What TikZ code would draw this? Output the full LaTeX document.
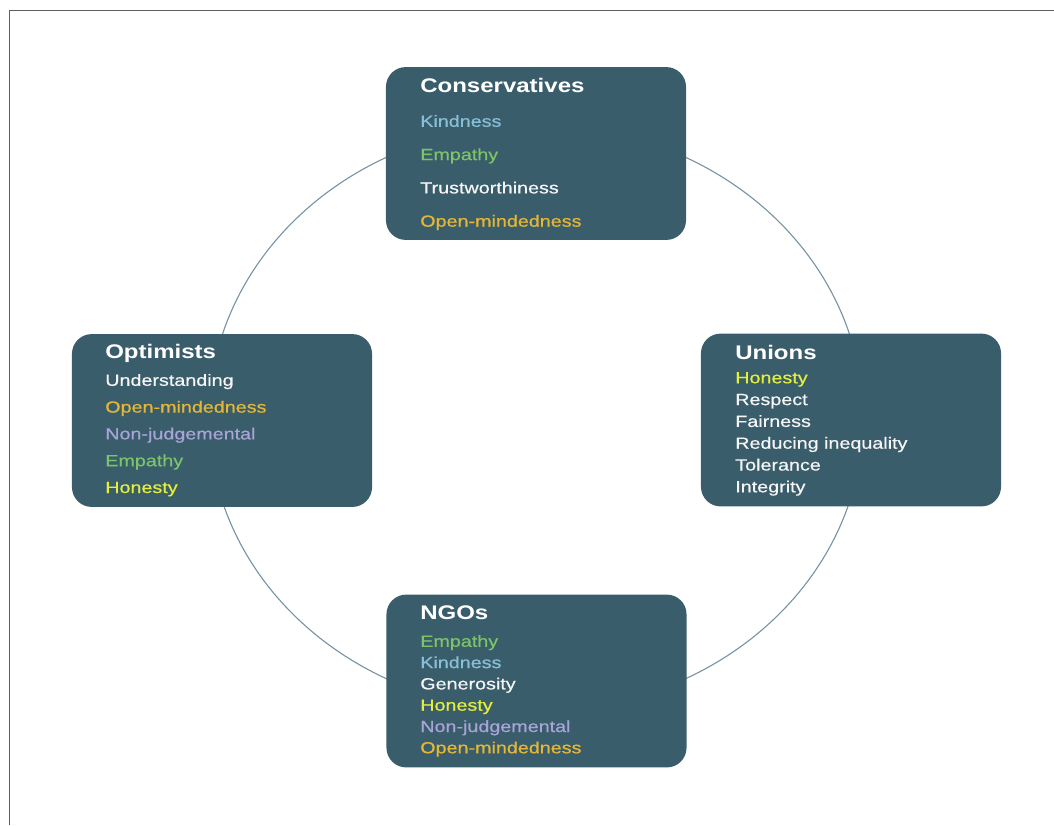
\documentclass[tikz,border=0pt]{standalone}
\usepackage{fontspec}
\setmainfont{Liberation Sans}[FakeStretch=1.22,UprightFeatures={FakeBold=0.6}]
\usepackage{tikz}
\usetikzlibrary{positioning}

\definecolor{panel}{HTML}{3A5D6C}
\definecolor{kindc}{HTML}{88BED6}
\definecolor{empc}{HTML}{7CC36A}
\definecolor{openc}{HTML}{E6B735}
\definecolor{nonjc}{HTML}{A9A4D8}
\definecolor{honc}{HTML}{E3EF3C}
\definecolor{plain}{HTML}{F5F5F5}
\definecolor{ringc}{HTML}{7894A3}
\definecolor{framec}{HTML}{5E5E5E}

\tikzset{
  group/.style={fill=panel,rounded corners=14pt,minimum width=7.5cm,minimum height=4.32cm,inner sep=0pt},
  head/.style={anchor=base west,inner sep=0pt,text=white,font=\fontsize{14}{16}\selectfont\bfseries},
  item/.style={anchor=base west,inner sep=0pt,font=\fontsize{11.5}{13}\selectfont},
  ring/.style={draw=ringc,line width=.8pt}
}

\begin{document}
\begin{tikzpicture}[x=0.025cm,y=-0.025cm]
\useasboundingbox (0,0) rectangle (1054,825);
\draw[framec,line width=1.4pt] (1054,10.5)--(9.5,10.5)--(9.5,825);
% ring behind the four groups
\coordinate (hub) at (536,418);
\draw[ring] (hub) ellipse [x radius=8.175cm,y radius=7.325cm];
% groups
\node[group] (cons) at (536,153.5) {};
\node[group] (opt) at (222,420.5) {};
\node[group] (uni) at (851,420) {};
\node[group] (ngo) at (536.5,681) {};
% Conservatives
\node[head] (cons-t) at (420,92) {Conservatives};
\foreach \word/\col [count=\i] in {Kindness/kindc,Empathy/empc,Trustworthiness/plain,Open-mindedness/openc}
  {\node[item,text=\col] (cons-\i) at (420,{93.5+33.3*\i}) {\word};}
% Optimists
\node[head] (opt-t) at (105,358) {Optimists};
\foreach \word/\col [count=\i] in {Understanding/plain,Open-mindedness/openc,Non-judgemental/nonjc,Empathy/empc,Honesty/honc}
  {\node[item,text=\col] (opt-\i) at (105,{359+26.8*\i}) {\word};}
% Unions
\node[head] (uni-t) at (735,359) {Unions};
\foreach \word/\col [count=\i] in {Honesty/honc,Respect/plain,Fairness/plain,Reducing inequality/plain,Tolerance/plain,Integrity/plain}
  {\node[item,text=\col] (uni-\i) at (735,{361.5+21.8*\i}) {\word};}
% NGOs
\node[head] (ngo-t) at (420,619) {NGOs};
\foreach \word/\col [count=\i] in {Empathy/empc,Kindness/kindc,Generosity/plain,Honesty/honc,Non-judgemental/nonjc,Open-mindedness/openc}
  {\node[item,text=\col] (ngo-\i) at (420,{625.5+21.3*\i}) {\word};}
\end{tikzpicture}
\end{document}
